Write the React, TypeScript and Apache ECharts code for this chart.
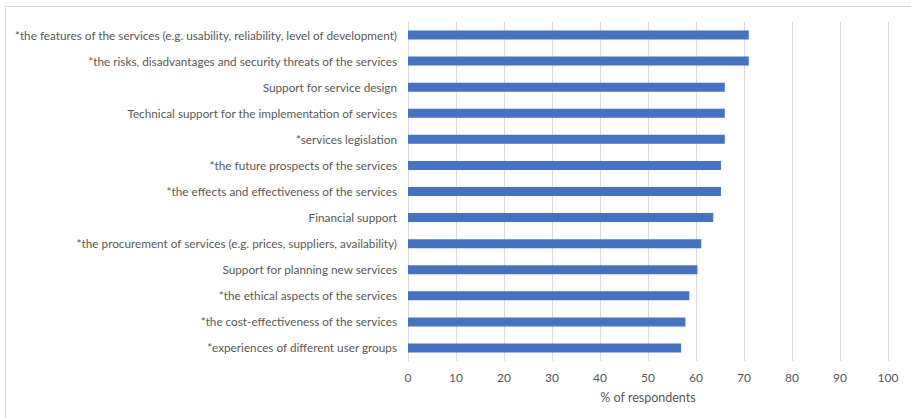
import React, { useEffect, useRef } from "react";
import * as echarts from "echarts";

const categories = [
  "*the features of the services (e.g. usability, reliability, level of development)",
  "*the risks, disadvantages and security threats of the services",
  "Support for service design",
  "Technical support for the implementation of services",
  "*services legislation",
  "*the future prospects of the services",
  "*the effects and effectiveness of the services",
  "Financial support",
  "*the procurement of services (e.g. prices, suppliers, availability)",
  "Support for planning new services",
  "*the ethical aspects of the services",
  "*the cost-effectiveness of the services",
  "*experiences of different user groups",
];

const values = [71.0, 71.0, 66.0, 66.0, 66.0, 65.2, 65.2, 63.6, 61.1, 60.3, 58.6, 57.8, 56.9];

const xTicks = [0, 10, 20, 30, 40, 50, 60, 70, 80, 90, 100];
const xAxisName = "% of respondents";

const FONT = "Lato, 'Open Sans', sans-serif";
const TEXT = "#595959";

export default function App() {
  const ref = useRef<HTMLDivElement>(null);
  useEffect(() => {
    if (!ref.current) return;
    const chart = echarts.init(ref.current, null, { renderer: "svg" });
    chart.setOption({
      animation: false,
      backgroundColor: "#ffffff",
      textStyle: { fontFamily: FONT },
      graphic: [
        {
          type: "rect",
          shape: { x: 5.5, y: 6.5, width: 1000, height: 1000 },
          style: { fill: "none", stroke: "#d9d9d9", lineWidth: 1 },
          silent: true,
        },
      ],
      grid: { left: 408, right: 23, top: 22, bottom: 57, containLabel: false },
      xAxis: {
        type: "value",
        min: xTicks[0],
        max: xTicks[xTicks.length - 1],
        interval: 10,
        name: xAxisName,
        nameLocation: "middle",
        nameGap: 30,
        nameTextStyle: { color: TEXT, fontSize: 12.5, fontFamily: FONT },
        axisLine: { show: false },
        axisTick: { show: false },
        axisLabel: { color: TEXT, fontSize: 12, margin: 10, fontFamily: FONT },
        splitLine: { show: true, lineStyle: { color: "#d9d9d9", width: 1 } },
      },
      yAxis: {
        type: "category",
        data: categories,
        inverse: true,
        axisLine: { show: true, lineStyle: { color: "#d9d9d9", width: 1 } },
        axisTick: { show: false },
        axisLabel: { color: TEXT, fontSize: 11.75, margin: 11, fontFamily: FONT },
        splitLine: { show: false },
      },
      series: [
        {
          type: "bar",
          data: values,
          barWidth: 9,
          itemStyle: { color: "#4472c4" },
          silent: true,
        },
      ],
    });
    return () => chart.dispose();
  }, []);
  return (
    <div
      ref={ref}
      style={{ position: "fixed", left: 0, top: 0, width: 911, height: 418 }}
    />
  );
}
